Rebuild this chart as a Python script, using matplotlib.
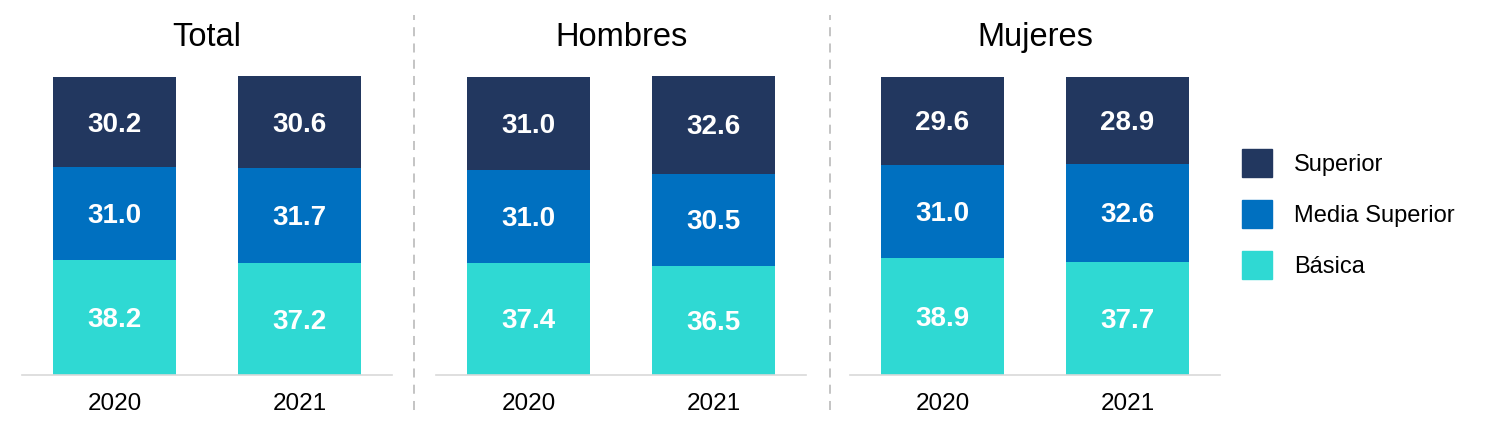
import matplotlib.pyplot as plt

plt.rcParams['font.family'] = ['Liberation Sans', 'DejaVu Sans']

groups = ['Total', 'Hombres', 'Mujeres']
years = ['2020', '2021']
levels = ['Básica', 'Media Superior', 'Superior']
basica = [[38.2, 37.2], [37.4, 36.5], [38.9, 37.7]]
media = [[31.0, 31.7], [31.0, 30.5], [31.0, 32.6]]
superior = [[30.2, 30.6], [31.0, 32.6], [29.6, 28.9]]
colors = ['#2fd9d3', '#0070c0', '#22375f']

W, H = 1488, 432
fig = plt.figure(figsize=(W / 100, H / 100), dpi=100)

# panel left edges in pixels; each axis is 370 px wide
lefts = [22, 436, 850]
bottom_px, top_px = 375, 75

for g, name in enumerate(groups):
    ax = fig.add_axes([lefts[g] / W, 1 - bottom_px / H, 370 / W, (bottom_px - top_px) / H])
    base = [0, 0]
    for series, col in zip([basica, media, superior], colors):
        vals = series[g]
        ax.bar(range(2), vals, width=0.665, bottom=base, color=col, zorder=2)
        for i, v in enumerate(vals):
            ax.text(i, base[i] + v / 2 - 0.8, f'{v:.1f}', ha='center', va='center',
                    color='white', fontsize=20, fontweight='bold', zorder=3)
        base = [b + v for b, v in zip(base, vals)]
    ax.set_xlim(-0.5, 1.5)
    ax.set_ylim(0, 100)
    ax.set_xticks(range(2))
    ax.set_xticklabels(years, fontsize=17.5)
    ax.tick_params(axis='x', length=0, pad=13)
    ax.set_yticks([])
    for s in ['top', 'left', 'right']:
        ax.spines[s].set_visible(False)
    ax.spines['bottom'].set_color('#d9d9d9')
    ax.spines['bottom'].set_linewidth(1.2)
    ax.set_title(name, fontsize=23.5, pad=21)

# dashed separators
for x in [414, 830]:
    fig.add_artist(plt.Line2D([x / W, x / W], [1 - 410 / H, 1 - 15 / H],
                              color='#bfbfbf', lw=1.3, linestyle=(0, (5, 4))))

# legend
handles = [plt.Rectangle((0, 0), 1, 1, color=c) for c in colors[::-1]]
fig.legend(handles, levels[::-1], loc='center left',
           bbox_to_anchor=(1221 / W, 1 - 214 / H), frameon=False, fontsize=17,
           handlelength=1.25, handleheight=1.4, labelspacing=1.0, handletextpad=0.95)

fig.savefig('out.png', dpi=100)
